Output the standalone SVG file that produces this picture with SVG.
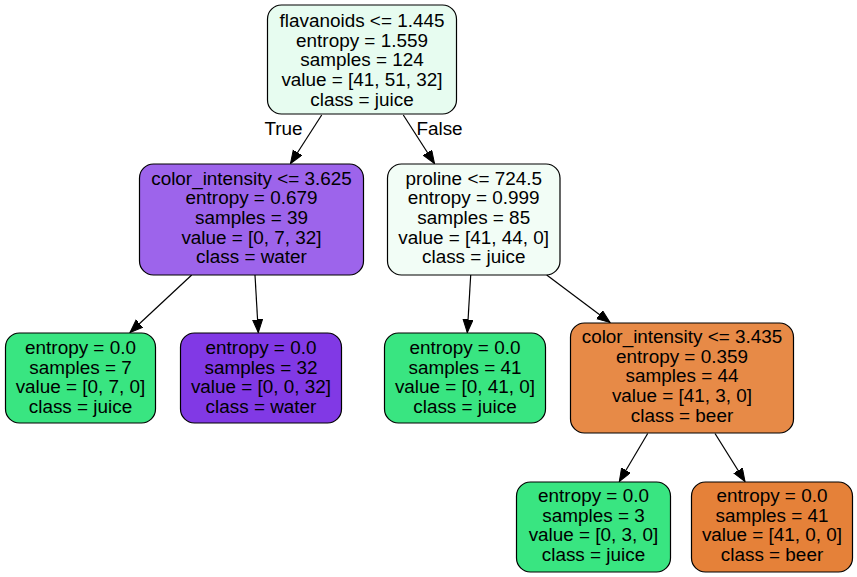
<svg xmlns="http://www.w3.org/2000/svg" width="857" height="577" viewBox="0 0 857 577">
<defs>
<style>
.n{stroke:#000;stroke-width:1.2}
.t{font-family:"Liberation Sans",Arial,sans-serif;font-size:18.9px;fill:#000;text-anchor:middle}
.e{stroke:#000;stroke-width:1.2;fill:none;marker-end:url(#ah)}
</style>
<marker id="ah" markerUnits="userSpaceOnUse" markerWidth="14" markerHeight="12" refX="13" refY="5" orient="auto">
<path d="M0,0 L13,5 L0,10 Z" fill="#000" stroke="#000" stroke-width="1"/>
</marker>
</defs>
<rect width="857" height="577" fill="#fff"/>
<g id="edges">
<line class="e" x1="321.7" y1="115" x2="290.5" y2="163.5"/>
<line class="e" x1="403.3" y1="115" x2="434.5" y2="163.5"/>
<text class="t" x="283.5" y="135">True</text>
<text class="t" x="439.5" y="135">False</text>
<line class="e" x1="191.7" y1="275" x2="130" y2="332.5"/>
<line class="e" x1="255" y1="275" x2="258.3" y2="332.5"/>
<line class="e" x1="470.7" y1="275" x2="467.3" y2="332.5"/>
<line class="e" x1="546.7" y1="275" x2="610" y2="322.5"/>
<line class="e" x1="647.7" y1="433.5" x2="619.3" y2="481.5"/>
<line class="e" x1="715" y1="433.5" x2="745" y2="481.5"/>
</g>
<g id="node0">
<rect class="n" x="267.5" y="5" width="189" height="109" rx="14" fill="#e7fcf0"/>
<text class="t" x="362" y="27"><tspan x="362">flavanoids &lt;= 1.445</tspan><tspan x="362" dy="19.7">entropy = 1.559</tspan><tspan x="362" dy="19.7">samples = 124</tspan><tspan x="362" dy="19.7">value = [41, 51, 32]</tspan><tspan x="362" dy="19.7">class = juice</tspan></text>
</g>
<g id="node1">
<rect class="n" x="139.5" y="164" width="224" height="111" rx="14" fill="#9d64eb"/>
<text class="t" x="251.5" y="184.5"><tspan x="251.5">color_intensity &lt;= 3.625</tspan><tspan x="251.5" dy="19.7">entropy = 0.679</tspan><tspan x="251.5" dy="19.7">samples = 39</tspan><tspan x="251.5" dy="19.7">value = [0, 7, 32]</tspan><tspan x="251.5" dy="19.7">class = water</tspan></text>
</g>
<g id="node2">
<rect class="n" x="5.5" y="333" width="150" height="90" rx="14" fill="#39e581"/>
<text class="t" x="80.5" y="354"><tspan x="80.5">entropy = 0.0</tspan><tspan x="80.5" dy="19.7">samples = 7</tspan><tspan x="80.5" dy="19.7">value = [0, 7, 0]</tspan><tspan x="80.5" dy="19.7">class = juice</tspan></text>
</g>
<g id="node3">
<rect class="n" x="180.5" y="333" width="161" height="90" rx="14" fill="#8139e5"/>
<text class="t" x="261" y="354"><tspan x="261">entropy = 0.0</tspan><tspan x="261" dy="19.7">samples = 32</tspan><tspan x="261" dy="19.7">value = [0, 0, 32]</tspan><tspan x="261" dy="19.7">class = water</tspan></text>
</g>
<g id="node4">
<rect class="n" x="387.5" y="164" width="172.5" height="111" rx="14" fill="#f2fdf6"/>
<text class="t" x="473.7" y="184.5"><tspan x="473.7">proline &lt;= 724.5</tspan><tspan x="473.7" dy="19.7">entropy = 0.999</tspan><tspan x="473.7" dy="19.7">samples = 85</tspan><tspan x="473.7" dy="19.7">value = [41, 44, 0]</tspan><tspan x="473.7" dy="19.7">class = juice</tspan></text>
</g>
<g id="node5">
<rect class="n" x="384.5" y="333" width="161" height="90" rx="14" fill="#39e581"/>
<text class="t" x="465" y="354"><tspan x="465">entropy = 0.0</tspan><tspan x="465" dy="19.7">samples = 41</tspan><tspan x="465" dy="19.7">value = [0, 41, 0]</tspan><tspan x="465" dy="19.7">class = juice</tspan></text>
</g>
<g id="node6">
<rect class="n" x="570.5" y="323" width="223" height="110" rx="14" fill="#e78a47"/>
<text class="t" x="682" y="343"><tspan x="682">color_intensity &lt;= 3.435</tspan><tspan x="682" dy="19.7">entropy = 0.359</tspan><tspan x="682" dy="19.7">samples = 44</tspan><tspan x="682" dy="19.7">value = [41, 3, 0]</tspan><tspan x="682" dy="19.7">class = beer</tspan></text>
</g>
<g id="node7">
<rect class="n" x="516.5" y="482" width="154" height="90" rx="14" fill="#39e581"/>
<text class="t" x="593.5" y="502"><tspan x="593.5">entropy = 0.0</tspan><tspan x="593.5" dy="19.7">samples = 3</tspan><tspan x="593.5" dy="19.7">value = [0, 3, 0]</tspan><tspan x="593.5" dy="19.7">class = juice</tspan></text>
</g>
<g id="node8">
<rect class="n" x="691.5" y="482" width="161" height="90" rx="14" fill="#e58139"/>
<text class="t" x="772" y="502"><tspan x="772">entropy = 0.0</tspan><tspan x="772" dy="19.7">samples = 41</tspan><tspan x="772" dy="19.7">value = [41, 0, 0]</tspan><tspan x="772" dy="19.7">class = beer</tspan></text>
</g>
</svg>
